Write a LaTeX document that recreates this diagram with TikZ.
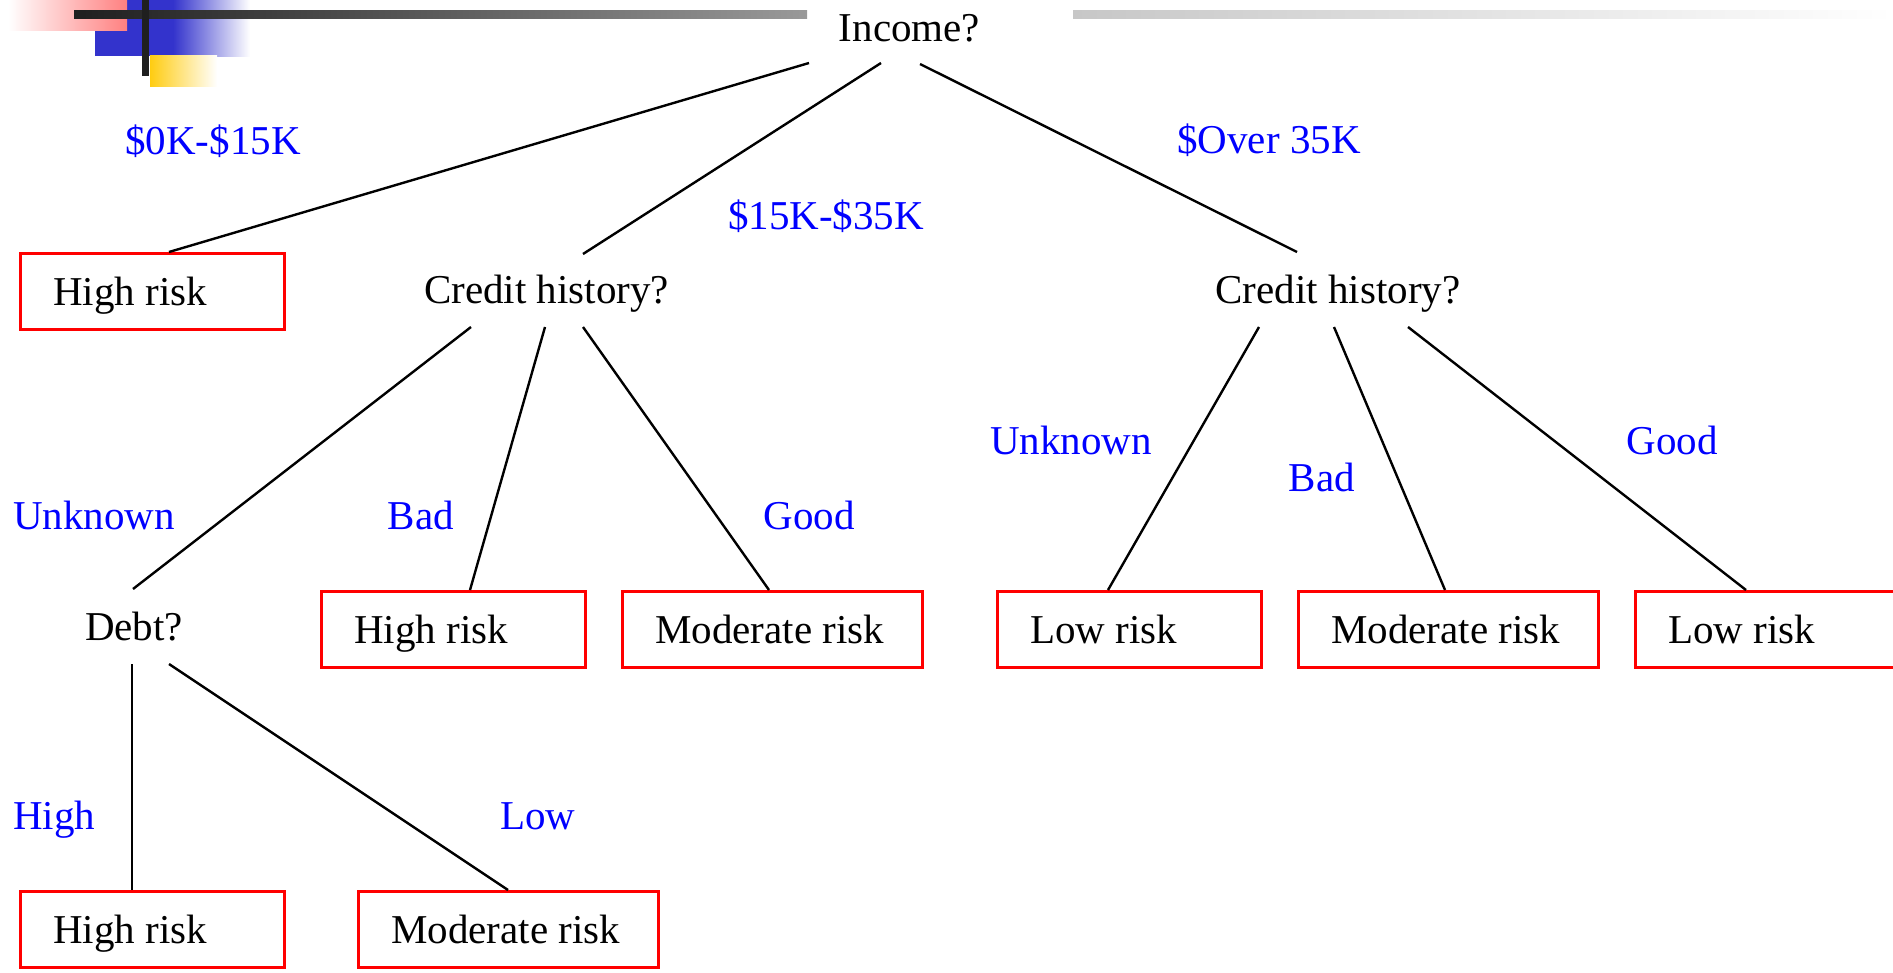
\documentclass[tikz,border=0pt]{standalone}
\usepackage{fontspec}
\setmainfont{Liberation Serif}
\definecolor{pinkc}{RGB}{255,128,128}
\definecolor{bluec}{RGB}{51,51,204}
\definecolor{yelc}{RGB}{255,204,17}
\begin{document}
\begin{tikzpicture}[x=0.5pt,y=-0.5pt,
  every node/.style={font=\fontsize{20.5}{24}\selectfont, inner sep=0pt},
  lbl/.style={text=blue, anchor=base},
  q/.style={anchor=base},
  rbox/.style={draw=red, line width=1.25pt, anchor=north west, text height=26pt, text depth=12pt},
  edge/.style={line width=1.2pt}]
\useasboundingbox (0,0) rectangle (1893,973);
\clip (0,0) rectangle (1893,973);
% top decoration
\fill[bluec] (127,0) rectangle (173,56);
\fill[bluec] (95,31) rectangle (173,56);
\shade[left color=bluec, right color=white] (173,0) rectangle (250,57);
\shade[left color=white, right color=pinkc] (8,0) rectangle (127,31);
\shade[left color=yelc, right color=white] (150,56) rectangle (217,87);
\shade[left color=black!88, right color=black!40] (74,11) rectangle (807,19);
\shade[left color=black!22, right color=white] (1073,11) rectangle (1893,19);
\fill[black!88] (142,0) rectangle (149,76);
% decision nodes
\node[q] (inc) at (909.5,42) {Income?};
\node[q] (ch1) at (546.5,303) {Credit history?};
\node[q] (ch2) at (1338,303) {Credit history?};
\node[q] (debt) at (134,640) {Debt?};
% leaf boxes
\node[rbox] (hr1) at (19,252) {\makebox[132pt][l]{\hspace{16.5pt}High risk}};
\node[rbox] (hr2) at (320,590) {\makebox[132pt][l]{\hspace{16.5pt}High risk}};
\node[rbox] (mr1) at (621,590) {\makebox[150pt][l]{\hspace{16.5pt}Moderate risk}};
\node[rbox] (lr1) at (996,590) {\makebox[132pt][l]{\hspace{16.5pt}Low risk}};
\node[rbox] (mr2) at (1297,590) {\makebox[150pt][l]{\hspace{16.5pt}Moderate risk}};
\node[rbox] (lr2) at (1634,590) {\makebox[132pt][l]{\hspace{16.5pt}Low risk}};
\node[rbox] (hr3) at (19,890) {\makebox[132pt][l]{\hspace{16.5pt}High risk}};
\node[rbox] (mr3) at (357,890) {\makebox[150pt][l]{\hspace{16.5pt}Moderate risk}};
% connectors
\draw[edge] ([shift={(-100.5,21)}]inc.base) -- ([shift={(150,0)}]hr1.north west);
\draw[edge] ([shift={(-28.5,21)}]inc.base) -- ([shift={(36.5,-49)}]ch1.base);
\draw[edge] ([shift={(10.5,22)}]inc.base) -- ([shift={(-41,-51)}]ch2.base);
\draw[edge] ([shift={(-75.5,24)}]ch1.base) -- ([shift={(-1,-51)}]debt.base);
\draw[edge] ([shift={(-1.5,24)}]ch1.base) -- ([shift={(150,0)}]hr2.north west);
\draw[edge] ([shift={(36.5,24)}]ch1.base) -- ([shift={(148,0)}]mr1.north west);
\draw[edge] ([shift={(-79,24)}]ch2.base) -- ([shift={(112,0)}]lr1.north west);
\draw[edge] ([shift={(-4,24)}]ch2.base) -- ([shift={(148,0)}]mr2.north west);
\draw[edge] ([shift={(70,24)}]ch2.base) -- ([shift={(112,0)}]lr2.north west);
\draw[edge] ([shift={(-2,24)}]debt.base) -- ([shift={(113,0)}]hr3.north west);
\draw[edge] ([shift={(35,24)}]debt.base) -- ([shift={(151,0)}]mr3.north west);
% edge labels
\node[lbl] (l1) at (213,155) {\$0K-\$15K};
\node[lbl] (l2) at (826,229) {\$15K-\$35K};
\node[lbl] (l3) at (1269,154) {\$Over 35K};
\node[lbl] (l4) at (94,529) {Unknown};
\node[lbl] (l5) at (421,529) {Bad};
\node[lbl] (l6) at (809,529) {Good};
\node[lbl] (l7) at (1071,454) {Unknown};
\node[lbl] (l8) at (1322,491) {Bad};
\node[lbl] (l9) at (1672,454) {Good};
\node[lbl] (l10) at (54,829) {High};
\node[lbl] (l11) at (538,829) {Low};
\end{tikzpicture}
\end{document}
